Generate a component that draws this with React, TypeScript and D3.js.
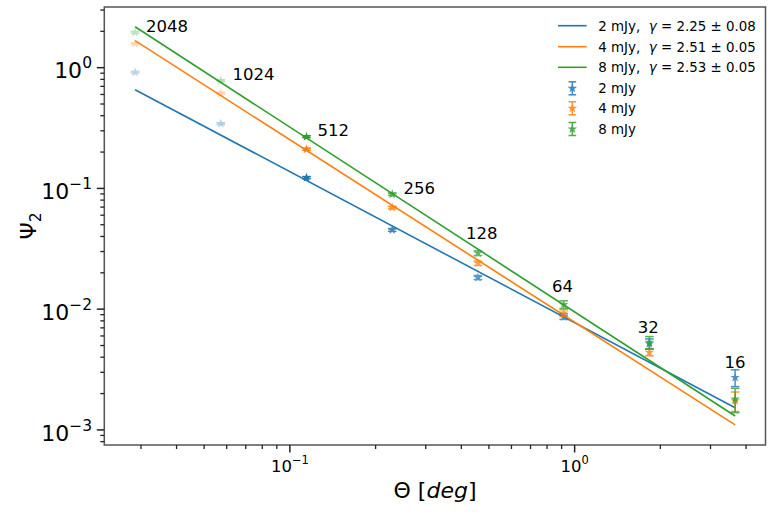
import React from "react";
import * as d3 from "d3";

// ---- data ----
const labels = ["2048", "1024", "512", "256", "128", "64", "32", "16"];
const theta = [0.0286, 0.0572, 0.1144, 0.2288, 0.4576, 0.9152, 1.8304, 3.6608];
const series = ["2 mJy", "4 mJy", "8 mJy"];
const colors = ["#1f77b4", "#ff7f0e", "#2ca02c"];
const psi2mJy = [0.916, 0.344, 0.1228, 0.0453, 0.01828, 0.00868, 0.00517, 0.002716];
const err2mJy = [0.012, 0.006, 0.0025, 0.0012, 0.0007, 0.00046, 0.0005, 0.00043];
const psi4mJy = [1.58, 0.614, 0.211, 0.0694, 0.02404, 0.00927, 0.00439, 0.00174];
const err4mJy = [0.025, 0.01, 0.004, 0.0017, 0.001, 0.0006, 0.00028, 0.00032];
const psi8mJy = [1.96, 0.78, 0.268, 0.0895, 0.0291, 0.01092, 0.00531, 0.0018];
const err8mJy = [0.03, 0.012, 0.005, 0.002, 0.0013, 0.0008, 0.00062, 0.00041];
const pointAlpha = [0.3, 0.35, 1, 0.85, 0.75, 0.75, 0.8, 0.8];
const gammaVals = [2.25, 2.51, 2.53];
const gammaErr = ["0.08", "0.05", "0.05"];
const fitAmp = [0.00773, 0.00781, 0.00949];
const labelTheta = [0.03127, 0.06284, 0.125, 0.2506, 0.4153, 0.833, 1.665, 3.357];
const labelPsi = [1.975, 0.791, 0.272, 0.0906, 0.03797, 0.0139, 0.006328, 0.003248];
const yMajor = [1e-3, 1e-2, 1e-1, 1];
const yMajorExp = ["−3", "−2", "−1", "0"];
const xMajor = [0.1, 1];
const xMajorExp = ["−1", "0"];

const psiAll = [psi2mJy, psi4mJy, psi8mJy];
const errAll = [err2mJy, err4mJy, err8mJy];

const W = 773, H = 512;
const L = 104.3, R = 765.5, T = 7, B = 445;
const font = "DejaVu Sans, sans-serif";

export default function App() {
  const x = d3.scaleLog().domain([0.0223, 4.68]).range([L, R]);
  const y = d3.scaleLog().domain([7.5e-4, 3.18]).range([B, T]);

  const yMinor: number[] = [];
  for (let e = -4; e <= 0; e++) for (let m = 2; m <= 9; m++) {
    const v = m * Math.pow(10, e);
    if (v >= 7.5e-4 && v <= 3.18) yMinor.push(v);
  }
  const xMinor: number[] = [];
  for (let e = -2; e <= 0; e++) for (let m = 2; m <= 9; m++) {
    const v = m * Math.pow(10, e);
    if (v >= 0.0223 && v <= 4.68) xMinor.push(v);
  }

  const star = d3.symbol().type(d3.symbolStar).size(28)();
  const line = d3.line<[number, number]>().x(d => x(d[0])).y(d => y(d[1]));

  const legendX0 = 558, legendX1 = 586.7, legendTextX = 598.3;
  const rowY = [25.7, 46.7, 67.3, 88.3, 108.3, 129];

  return (
    <svg width={W} height={H} style={{ position: "absolute", left: 0, top: 0, background: "#fff" }} fontFamily={font}>
      <rect x={0} y={0} width={W} height={H} fill="#fff" />
      {/* fit lines */}
      {series.map((s, i) => {
        const th0 = theta[0], th1 = theta[theta.length - 1];
        const f = (t: number) => fitAmp[i] * Math.pow(t, 1 - gammaVals[i]);
        return <path key={"fit" + i} d={line([[th0, f(th0)], [th1, f(th1)]]) || ""} stroke={colors[i]} strokeWidth={1.6} fill="none" />;
      })}
      {/* error bars & markers */}
      {series.map((s, i) => (
        <g key={"pts" + i} stroke={colors[i]} fill={colors[i]}>
          {theta.map((t, j) => {
            const v = psiAll[i][j], e = errAll[i][j];
            const cx = x(t), ytop = y(v + e), ybot = y(v - e);
            return (
              <g key={j} opacity={pointAlpha[j]}>
                <line x1={cx} x2={cx} y1={ytop} y2={ybot} strokeWidth={1.5} />
                <line x1={cx - 4.3} x2={cx + 4.3} y1={ytop} y2={ytop} strokeWidth={1.5} />
                <line x1={cx - 4.3} x2={cx + 4.3} y1={ybot} y2={ybot} strokeWidth={1.5} />
                <path d={star || ""} transform={`translate(${cx},${y(v)})`} stroke="none" />
              </g>
            );
          })}
        </g>
      ))}
      {/* point labels */}
      {labels.map((lb, j) => (
        <text key={"lb" + j} x={x(labelTheta[j])} y={y(labelPsi[j])} fontSize={16.5} fill="#000">{lb}</text>
      ))}
      {/* spines */}
      <rect x={L} y={T} width={R - L} height={B - T} fill="none" stroke="#555" strokeWidth={1.5} />
      {/* y ticks */}
      {yMinor.map((v, k) => (
        <line key={"ym" + k} x1={L} x2={L - 4} y1={y(v)} y2={y(v)} stroke="#222" strokeWidth={1.3} />
      ))}
      {yMajor.map((v, k) => (
        <g key={"yM" + k}>
          <line x1={L} x2={L - 7.5} y1={y(v)} y2={y(v)} stroke="#222" strokeWidth={1.5} />
          <text x={92} y={y(v) + 10.6} textAnchor="end" fontSize={22} fill="#000">
            10<tspan fontSize={15.5} dy={-10}>{yMajorExp[k]}</tspan>
          </text>
        </g>
      ))}
      {/* x ticks */}
      {xMinor.map((v, k) => (
        <line key={"xm" + k} x1={x(v)} x2={x(v)} y1={B} y2={B + 4} stroke="#222" strokeWidth={1.3} />
      ))}
      {xMajor.map((v, k) => (
        <g key={"xM" + k}>
          <line x1={x(v)} x2={x(v)} y1={B} y2={B + 7.5} stroke="#222" strokeWidth={1.5} />
          <text x={x(v)} y={471.5} textAnchor="middle" fontSize={16.5} fill="#000">
            10<tspan fontSize={11.5} dy={-8}>{xMajorExp[k]}</tspan>
          </text>
        </g>
      ))}
      {/* axis labels */}
      <text x={435} y={498} textAnchor="middle" fontSize={22} fill="#000">
        Θ [<tspan fontStyle="italic">deg</tspan>]
      </text>
      <text transform={`translate(36,${(T + B) / 2}) rotate(-90)`} textAnchor="middle" fontSize={22} fill="#000">
        Ψ<tspan fontSize={15.5} dy={5}>2</tspan>
      </text>
      {/* legend */}
      {series.map((s, i) => (
        <g key={"lgl" + i}>
          <line x1={legendX0} x2={legendX1} y1={rowY[i]} y2={rowY[i]} stroke={colors[i]} strokeWidth={1.6} />
          <text x={legendTextX} y={rowY[i] + 5} fontSize={13.4} fill="#000" style={{ whiteSpace: "pre" }}>
            {s + ",  "}<tspan fontStyle="italic">γ</tspan>{" = " + gammaVals[i].toFixed(2) + " ± " + gammaErr[i]}
          </text>
        </g>
      ))}
      {series.map((s, i) => {
        const cy = rowY[3 + i], cx = (legendX0 + legendX1) / 2;
        return (
          <g key={"lge" + i}>
            <g stroke={colors[i]} fill={colors[i]} opacity={0.85}>
              <line x1={cx} x2={cx} y1={cy - 6.5} y2={cy + 6.5} strokeWidth={1.5} />
              <line x1={cx - 3.8} x2={cx + 3.8} y1={cy - 6.5} y2={cy - 6.5} strokeWidth={1.5} />
              <line x1={cx - 3.8} x2={cx + 3.8} y1={cy + 6.5} y2={cy + 6.5} strokeWidth={1.5} />
              <path d={star || ""} transform={`translate(${cx},${cy})`} stroke="none" />
            </g>
            <text x={legendTextX} y={cy + 5} fontSize={13.4} fill="#000">{s}</text>
          </g>
        );
      })}
    </svg>
  );
}
